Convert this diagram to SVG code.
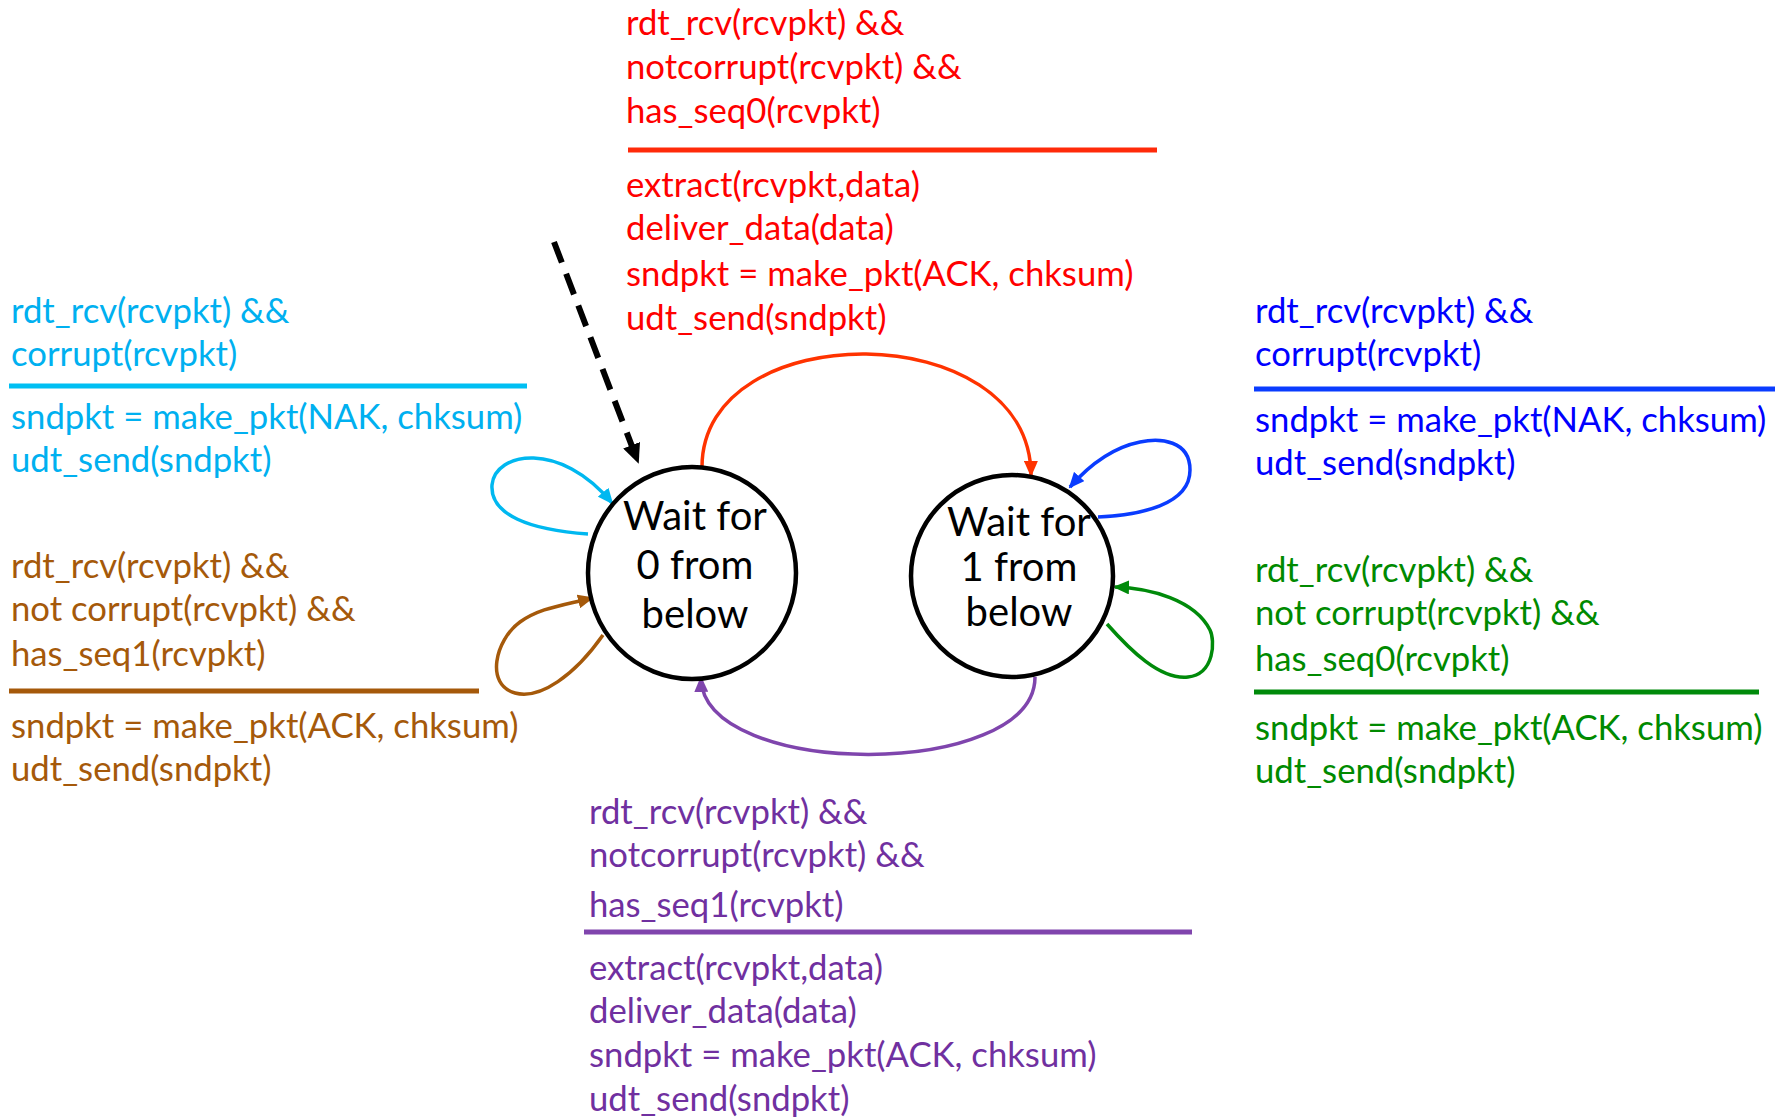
<svg xmlns="http://www.w3.org/2000/svg" width="1781" height="1118" viewBox="0 0 1781 1118">
  <style>
    text { font-family: "Lato", "Open Sans", "Liberation Sans", sans-serif; font-size: 34.7px; }
    .state text { font-size: 40px; fill: #000; text-anchor: middle; }
    .state ellipse { fill: #fff; stroke: #000; stroke-width: 4.5; }
    .bar { stroke-width: 5; }
    .edge { fill: none; stroke-width: 3.5; }
    .red { fill: #ff0000; }
    .cyan { fill: #00b0f0; }
    .brown { fill: #a5590a; }
    .blue { fill: #0000ff; }
    .green { fill: #008a00; }
    .purple { fill: #7030a0; }
  </style>
  <defs>
    <marker id="ah-red" markerUnits="userSpaceOnUse" viewBox="0 0 16 14" markerWidth="16" markerHeight="14" refX="14" refY="7" orient="auto"><path d="M0,0 L16,7 L0,14 z" fill="#ff3300"/></marker>
    <marker id="ah-purple" markerUnits="userSpaceOnUse" viewBox="0 0 16 14" markerWidth="16" markerHeight="14" refX="14" refY="7" orient="auto"><path d="M0,0 L16,7 L0,14 z" fill="#7f45ad"/></marker>
    <marker id="ah-cyan" markerUnits="userSpaceOnUse" viewBox="0 0 16 14" markerWidth="16" markerHeight="14" refX="14" refY="7" orient="auto"><path d="M0,0 L16,7 L0,14 z" fill="#00b8f0"/></marker>
    <marker id="ah-brown" markerUnits="userSpaceOnUse" viewBox="0 0 16 14" markerWidth="16" markerHeight="14" refX="14" refY="7" orient="auto"><path d="M0,0 L16,7 L0,14 z" fill="#a5590a"/></marker>
    <marker id="ah-blue" markerUnits="userSpaceOnUse" viewBox="0 0 16 14" markerWidth="16" markerHeight="14" refX="14" refY="7" orient="auto"><path d="M0,0 L16,7 L0,14 z" fill="#0a3cff"/></marker>
    <marker id="ah-green" markerUnits="userSpaceOnUse" viewBox="0 0 16 14" markerWidth="16" markerHeight="14" refX="14" refY="7" orient="auto"><path d="M0,0 L16,7 L0,14 z" fill="#008a0a"/></marker>
    <marker id="ah-black" markerUnits="userSpaceOnUse" viewBox="0 0 20 18" markerWidth="20" markerHeight="18" refX="18" refY="9" orient="auto"><path d="M0,0 L20,9 L0,18 z" fill="#000"/></marker>
  </defs>

  <!-- transitions between and around the two receiver states -->
  <g id="connectors">
    <path d="M554,242 L638,462" fill="none" stroke="#000" stroke-width="6" stroke-dasharray="22 12" marker-end="url(#ah-black)"/>
    <path class="edge" d="M702,467 C702,315 1030,315 1031,475" stroke="#ff3300" marker-end="url(#ah-red)"/>
    <path class="edge" d="M1035,677 C1035,780 703,780 701,678" stroke="#7f45ad" marker-end="url(#ah-purple)"/>
    <path class="edge" d="M588,534 C530,530 490,515 492,485 C495,452 560,440 612,503" stroke="#00b8f0" marker-end="url(#ah-cyan)"/>
    <path class="edge" d="M603,635 C575,675 540,700 515,693 C485,685 495,640 520,622 C540,608 560,606 592,598" stroke="#a5590a" marker-end="url(#ah-brown)"/>
    <path class="edge" d="M1098,517 C1140,515 1190,505 1190,470 C1190,440 1160,438 1140,442 C1110,448 1085,470 1070,487" stroke="#0a3cff" marker-end="url(#ah-blue)"/>
    <path class="edge" d="M1107,624 C1130,650 1160,680 1188,677 C1215,674 1215,640 1210,630 C1195,600 1150,588 1115,587" stroke="#008a0a" marker-end="url(#ah-green)"/>
  </g>

  <!-- states -->
  <g id="wait0" class="state">
    <ellipse cx="692" cy="573" rx="104" ry="106"/>
    <text x="695" y="530">Wait for</text>
    <text x="695" y="579">0 from</text>
    <text x="695" y="628">below</text>
  </g>
  <g id="wait1" class="state">
    <ellipse cx="1012" cy="576" rx="101" ry="101"/>
    <text x="1019" y="536">Wait for</text>
    <text x="1019" y="581">1 from</text>
    <text x="1019" y="626">below</text>
  </g>

  <!-- event / action labels -->
  <g id="label-seq0-ok" class="red">
    <text x="626" y="35">rdt_rcv(rcvpkt) &amp;&amp;</text>
    <text x="626" y="79">notcorrupt(rcvpkt) &amp;&amp;</text>
    <text x="626" y="123">has_seq0(rcvpkt)</text>
    <line class="bar" x1="628" y1="150" x2="1157" y2="150" stroke="#ff2a0a"/>
    <text x="626" y="197">extract(rcvpkt,data)</text>
    <text x="626" y="240">deliver_data(data)</text>
    <text x="626" y="286">sndpkt = make_pkt(ACK, chksum)</text>
    <text x="626" y="330">udt_send(sndpkt)</text>
  </g>
  <g id="label-corrupt-0" class="cyan">
    <text x="11" y="323">rdt_rcv(rcvpkt) &amp;&amp;</text>
    <text x="11" y="366">corrupt(rcvpkt)</text>
    <line class="bar" x1="9" y1="386" x2="527" y2="386" stroke="#00bff3"/>
    <text x="11" y="429">sndpkt = make_pkt(NAK, chksum)</text>
    <text x="11" y="472">udt_send(sndpkt)</text>
  </g>
  <g id="label-dup-1" class="brown">
    <text x="11" y="578">rdt_rcv(rcvpkt) &amp;&amp;</text>
    <text x="11" y="621">not corrupt(rcvpkt) &amp;&amp;</text>
    <text x="11" y="666">has_seq1(rcvpkt)</text>
    <line class="bar" x1="9" y1="691" x2="479" y2="691" stroke="#a5590a"/>
    <text x="11" y="738">sndpkt = make_pkt(ACK, chksum)</text>
    <text x="11" y="781">udt_send(sndpkt)</text>
  </g>
  <g id="label-corrupt-1" class="blue">
    <text x="1255" y="323">rdt_rcv(rcvpkt) &amp;&amp;</text>
    <text x="1255" y="366">corrupt(rcvpkt)</text>
    <line class="bar" x1="1254" y1="389" x2="1775" y2="389" stroke="#0a3cff"/>
    <text x="1255" y="432">sndpkt = make_pkt(NAK, chksum)</text>
    <text x="1255" y="475">udt_send(sndpkt)</text>
  </g>
  <g id="label-dup-0" class="green">
    <text x="1255" y="582">rdt_rcv(rcvpkt) &amp;&amp;</text>
    <text x="1255" y="625">not corrupt(rcvpkt) &amp;&amp;</text>
    <text x="1255" y="671">has_seq0(rcvpkt)</text>
    <line class="bar" x1="1254" y1="692" x2="1759" y2="692" stroke="#008a0a"/>
    <text x="1255" y="740">sndpkt = make_pkt(ACK, chksum)</text>
    <text x="1255" y="783">udt_send(sndpkt)</text>
  </g>
  <g id="label-seq1-ok" class="purple">
    <text x="589" y="824">rdt_rcv(rcvpkt) &amp;&amp;</text>
    <text x="589" y="867">notcorrupt(rcvpkt) &amp;&amp;</text>
    <text x="589" y="917">has_seq1(rcvpkt)</text>
    <line class="bar" x1="584" y1="932" x2="1192" y2="932" stroke="#8045ad"/>
    <text x="589" y="980">extract(rcvpkt,data)</text>
    <text x="589" y="1023">deliver_data(data)</text>
    <text x="589" y="1067">sndpkt = make_pkt(ACK, chksum)</text>
    <text x="589" y="1111">udt_send(sndpkt)</text>
  </g>
</svg>
